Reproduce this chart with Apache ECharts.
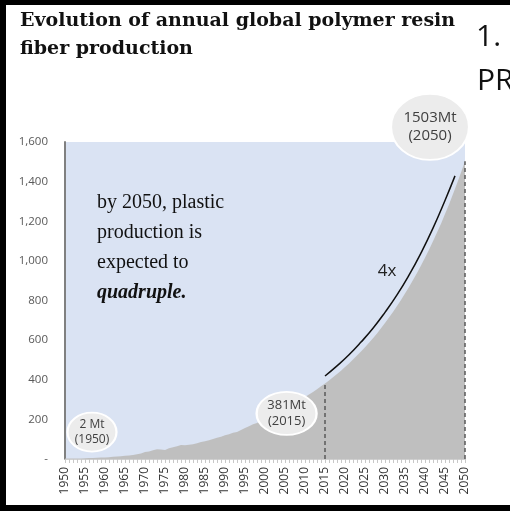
<!DOCTYPE html>
<html>
<head>
<meta charset="utf-8">
<script src="https://cdn.jsdelivr.net/npm/echarts@6/dist/echarts.min.js"></script>
<style>
  html, body { margin: 0; padding: 0; background: #fff; }
  #chart { width: 510px; height: 511px; }
</style>
</head>
<body>
<div id="chart"></div>
<script>
// annual production, Mt, 1950..2050 (history to 2015, projection after)
const startYear = 1950;
const production = [
  2, 2, 2, 3, 3, 4, 5, 5, 6, 7,
  8, 9, 11, 12, 14, 16, 18, 20, 24, 28,
  35, 38, 44, 49, 48, 46, 54, 59, 64, 71,
  70, 72, 74, 80, 86, 90, 95, 101, 107, 112,
  120, 125, 132, 136, 146, 156, 165, 175, 182, 195,
  213, 218, 231, 241, 256, 263, 280, 295, 281, 288,
  313, 325, 338, 352, 367, 381,
  396, 412, 429, 446, 464, 482, 502, 522, 542, 564,
  587, 610, 634, 660, 686, 714, 742, 772, 803, 835,
  868, 903, 939, 977, 1016, 1056, 1099, 1143, 1188, 1236,
  1285, 1337, 1390, 1446, 1503
];
// "4x" arrow line drawn just above the curve
const trendYears = [2015, 2018, 2021, 2024, 2027, 2030, 2033, 2036, 2039, 2042, 2045, 2047.5];
const trendValues = [419, 470, 526, 590, 660, 740, 828, 928, 1040, 1165, 1305, 1429];
// bubbles: [year, value, text]
const bubbles = [
  [1956.75, 136, '2 Mt\n(1950)'],
  [2005.4, 230, '381Mt\n(2015)'],
  [2041.25, 1676, '1503Mt\n(2050)']
];
const bubbleSizes = [[49, 39], [60, 43], [78, 66]];
const bubbleFonts = [12, 13, 15];
const yTicks = ['-', '200', '400', '600', '800', '1,000', '1,200', '1,400', '1,600'];
const noteLines = ['by 2050, plastic', 'production is', 'expected to'];

const chart = echarts.init(document.getElementById('chart'));

const areaData = production.map((v, i) => [startYear + i, v]);
const trendData = trendYears.map((y, i) => [y, trendValues[i]]);

const option = {
  backgroundColor: '#fff',
  animation: false,
  grid: {
    left: 65, right: 45, top: 142, bottom: 52,
    show: true, backgroundColor: '#dae3f3', borderWidth: 0
  },
  xAxis: {
    type: 'value',
    min: 1950, max: 2050, interval: 5,
    axisLine: { show: true, lineStyle: { color: '#d0d0d0', width: 1 } },
    axisTick: { show: true, length: 4, lineStyle: { color: '#c8c8c8' } },
    minorTick: { show: true, splitNumber: 5, length: 4, lineStyle: { color: '#c8c8c8' } },
    splitLine: { show: false },
    axisLabel: {
      rotate: 90, margin: 8, color: '#333',
      fontFamily: 'Open Sans', fontSize: 12,
      formatter: v => String(v)
    }
  },
  yAxis: {
    type: 'value',
    min: 0, max: 1600, interval: 200,
    axisLine: { show: true, lineStyle: { color: '#808080', width: 2 } },
    axisTick: { show: false },
    splitLine: { show: false },
    axisLabel: {
      margin: 17, color: '#595959',
      fontFamily: 'Open Sans', fontSize: 11.5,
      formatter: v => yTicks[v / 200]
    }
  },
  series: [
    {
      type: 'line',
      data: areaData,
      symbol: 'none',
      lineStyle: { width: 0 },
      areaStyle: { color: '#bfbfbf', opacity: 1 },
      z: 2,
      markLine: {
        silent: true,
        symbol: 'none',
        label: { show: false },
        lineStyle: { color: '#595959', type: [4, 3], width: 1.5 },
        data: [
          [{ coord: [2015, 0] }, { coord: [2015, 381] }],
          [{ coord: [2050, 0] }, { coord: [2050, 1503] }]
        ]
      }
    },
    {
      type: 'line',
      data: trendData,
      symbol: 'none',
      smooth: true,
      lineStyle: { color: '#111', width: 1.5 },
      z: 3,
      markPoint: {
        symbol: 'circle',
        symbolSize: 0,
        label: {
          show: true, formatter: '4x', color: '#222',
          fontFamily: 'Open Sans', fontSize: 17
        },
        data: [{ coord: [2030.5, 949] }]
      }
    },
    {
      type: 'scatter',
      clip: false,
      z: 5,
      data: bubbles.map((b, i) => ({
        value: [b[0], b[1]],
        symbolSize: bubbleSizes[i],
        label: { fontSize: bubbleFonts[i], lineHeight: bubbleFonts[i] + 3 },
        name: b[2]
      })),
      symbol: 'circle',
      itemStyle: { color: '#ececec', borderColor: '#ffffff', borderWidth: 2, opacity: 1 },
      label: {
        show: true, position: 'inside', color: '#404040',
        fontFamily: 'Open Sans',
        formatter: p => p.name
      }
    }
  ],
  graphic: [
    { type: 'rect', shape: { x: 0, y: 0, width: 6, height: 511 }, style: { fill: '#000' } },
    { type: 'rect', shape: { x: 0, y: 0, width: 510, height: 5 }, style: { fill: '#000' } },
    { type: 'rect', shape: { x: 0, y: 505, width: 510, height: 6 }, style: { fill: '#000' } },
    {
      type: 'text', left: 20, top: 12,
      style: {
        text: 'Evolution of annual global polymer resin and',
        font: 'bold 19px "DejaVu Serif"', fill: '#111'
      }
    },
    {
      type: 'text', left: 20, top: 40,
      style: { text: 'fiber production', font: 'bold 19px "DejaVu Serif"', fill: '#111' }
    },
    { type: 'rect', shape: { x: 462, y: 5, width: 48, height: 60 }, style: { fill: '#fff' } },
    {
      type: 'text', left: 476, top: 22,
      style: { text: '1.', font: '30px "Open Sans"', fill: '#111' }
    },
    {
      type: 'text', left: 477, top: 66,
      style: { text: 'PR', font: '30px "Open Sans"', fill: '#111' }
    },
    ...noteLines.map((t, i) => ({
      type: 'text', left: 97, top: 193 + i * 30,
      style: { text: t, font: '20px "Liberation Serif"', fill: '#111' }
    })),
    {
      type: 'text', left: 97, top: 283,
      style: { text: 'quadruple.', font: 'italic bold 20px "Liberation Serif"', fill: '#111' }
    }
  ]
};

chart.setOption(option);
</script>
</body>
</html>
